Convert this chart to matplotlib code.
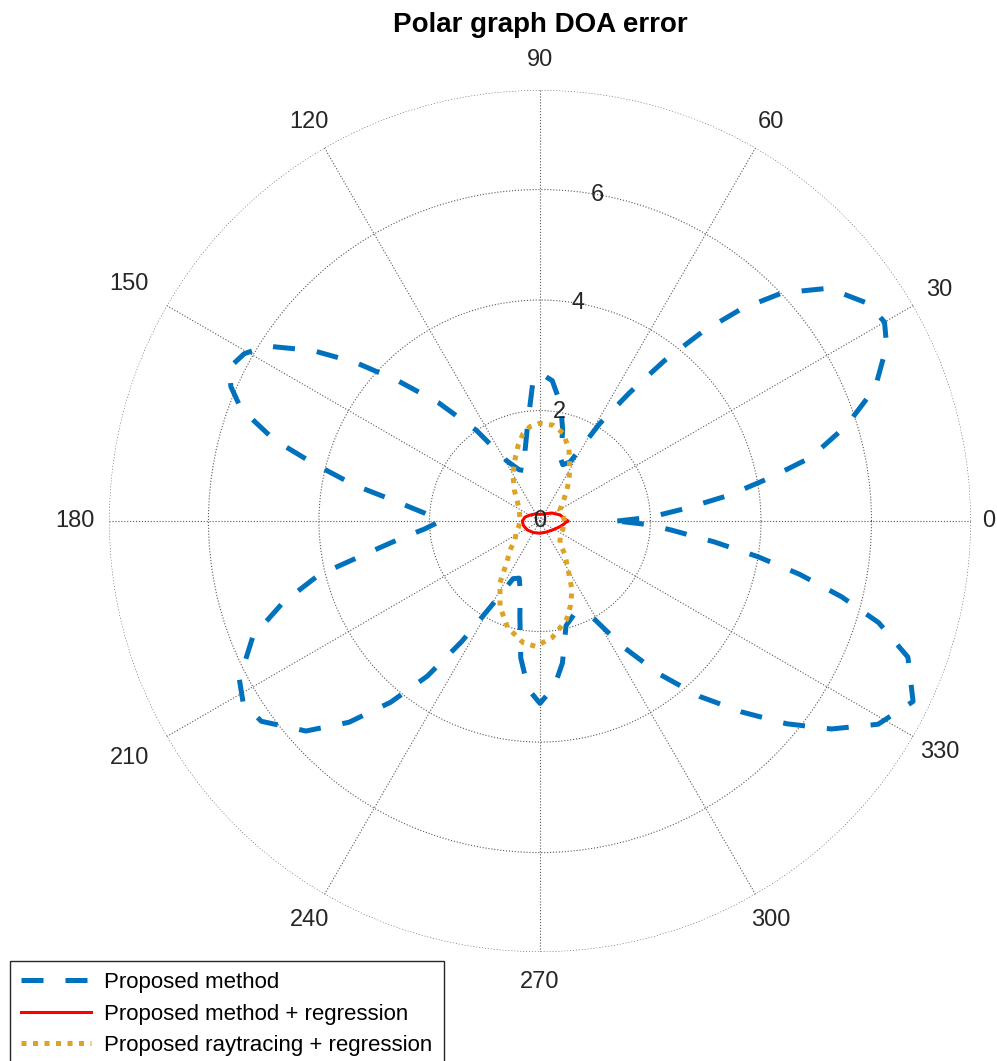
import numpy as np
import matplotlib
matplotlib.use("Agg")
import matplotlib.pyplot as plt

plt.rcParams["font.family"] = ["Liberation Sans", "DejaVu Sans"]

# angle (deg) / radius pairs
prop_theta = [0, 2, 5, 7.8, 10.7, 13.2, 17.3, 21.7, 26.8, 30, 33.5, 38.9, 43.3,
              46.5, 49.4, 52.2, 55.1, 58.5, 63, 68, 72, 76, 80, 85, 90, 93, 97,
              102, 106, 112, 119, 125, 130.6, 135.4, 139.3, 143.1, 147.4, 150.5,
              153.7, 156.5, 159.4, 163, 165.7, 169, 172.4, 176, 180, 184, 186.7,
              190.5, 193.7, 197.6, 201.9, 207.8, 211.5, 215.7, 221.9, 226.5,
              230.5, 234, 237, 240, 245, 250, 254, 258, 262, 266, 270, 275, 279,
              284, 290, 298, 303.4, 308, 312.3, 316.6, 320.6, 324.5, 329, 334.2,
              339.7, 343.3, 345.9, 348.4, 350.7, 353.2, 356, 358, 360]
prop_r = [1.4, 2.0, 2.66, 3.46, 4.25, 5.03, 5.81, 6.53, 7.03, 7.2, 7.13, 6.71, 6.02,
          5.29, 4.5, 3.67, 2.83, 2.07, 1.2, 1.1, 1.2, 1.7, 2.15, 2.55, 2.68, 2.5, 1.8,
          1.3, 0.95, 1.0, 1.25, 2.0, 2.82, 3.62, 4.4, 5.14, 5.88, 6.15,
          6.27, 6.1, 5.78, 5.03, 4.24, 3.43, 2.6, 2.1, 1.8, 2.1, 2.48,
          3.17, 4.12, 4.88, 5.6, 6.15, 6.3, 6.21, 5.69, 5.02,
          4.25, 3.47, 2.6, 1.8, 1.15, 1.1, 1.3, 1.75, 2.5, 3.05, 3.3, 3.0, 2.6,
          1.95, 1.8, 1.92, 2.72, 3.52, 4.29, 5.03, 5.78, 6.48, 7.14, 7.5,
          7.1, 6.4, 5.63, 4.8, 4.0, 3.17, 2.4, 2.0, 1.4]

reg_theta = [0, 17, 34, 60, 90, 120, 149, 165, 180, 195, 215, 240, 270, 300, 325,
             345, 352, 360]
reg_r = [0.5, 0.38, 0.26, 0.15, 0.12, 0.15, 0.21, 0.28, 0.32, 0.31, 0.28, 0.24,
         0.22, 0.23, 0.28, 0.38, 0.43, 0.5]

ray_theta = [0, 15, 29, 40, 49, 55, 61, 68, 75, 82, 90, 96, 101, 106, 111, 116,
             121.5, 130, 137.6, 150, 169, 180, 195, 205, 217, 224, 231, 237, 245,
             253, 262, 268, 276, 285, 290, 295, 301, 307, 312, 325, 340, 360]
ray_r = [0.45, 0.42, 0.41, 0.55, 0.74, 0.92, 1.11, 1.4, 1.64, 1.75, 1.77, 1.72,
         1.61, 1.43, 1.24, 1.08, 0.93, 0.72, 0.56, 0.44, 0.37, 0.36, 0.40, 0.47,
         0.57, 0.75, 0.95, 1.33, 1.71, 2.01, 2.22, 2.27, 2.12, 1.85, 1.62, 1.37,
         0.97, 0.74, 0.54, 0.45, 0.44, 0.45]

series_labels = ["Proposed method", "Proposed method + regression",
                 "Proposed raytracing + regression"]
r_ticks = [0, 2, 4, 6]
r_max = 7.8
theta_ticks = list(range(0, 360, 30))

fig = plt.figure(figsize=(9.97, 10.61), dpi=100)
ax = fig.add_axes([0.1093, 0.1027, 0.8646, 0.8124], projection="polar")

l1, = ax.plot(np.deg2rad(prop_theta), prop_r, color="#0072BD", lw=3.6,
              dashes=(4.4, 4.4), solid_joinstyle="round")
l2, = ax.plot(np.deg2rad(reg_theta), reg_r, color="#FF0000", lw=2.2)
l3, = ax.plot(np.deg2rad(ray_theta), ray_r, color="#DDA326", lw=3.6,
              dashes=(1.0, 1.3))

ax.set_ylim(0, r_max)
ax.set_rgrids([2, 4, 6, r_max], labels=["", "", "", ""])
ax.set_thetagrids(theta_ticks, labels=[""] * len(theta_ticks))
ax.grid(True, color="0.35", lw=0.8, ls=":")
ax.spines["polar"].set_visible(False)
ax.tick_params(length=0)

# radius labels along the 80 degree spoke
for r in r_ticks:
    ax.text(np.deg2rad(80), r, str(r), ha="center", va="center",
            fontsize=17, color="#262626")

# angle labels just outside the outer ring
for t in theta_ticks:
    fac = 1.07
    if t == 0:
        fac = 1.042
    elif t == 180:
        fac = 1.08
    elif t in (150, 210):
        fac = 1.1
    ax.text(np.deg2rad(t), r_max * fac, str(t), ha="center", va="center",
            fontsize=17, color="#262626")

fig.text(0.5416, 1 - 25 / 1061, "Polar graph DOA error", ha="center",
         va="center", fontsize=20, fontweight="bold")

leg = fig.legend([l1, l2, l3], series_labels, loc="upper left",
                 bbox_to_anchor=(0.010, 1 - 961 / 1061), borderaxespad=0,
                 fontsize=16, handlelength=3.15, handletextpad=0.6,
                 labelspacing=0.47, borderpad=0.5, fancybox=False,
                 framealpha=1, edgecolor="#262626")
leg.get_frame().set_linewidth(1.0)

fig.savefig("out.png", dpi=100)
